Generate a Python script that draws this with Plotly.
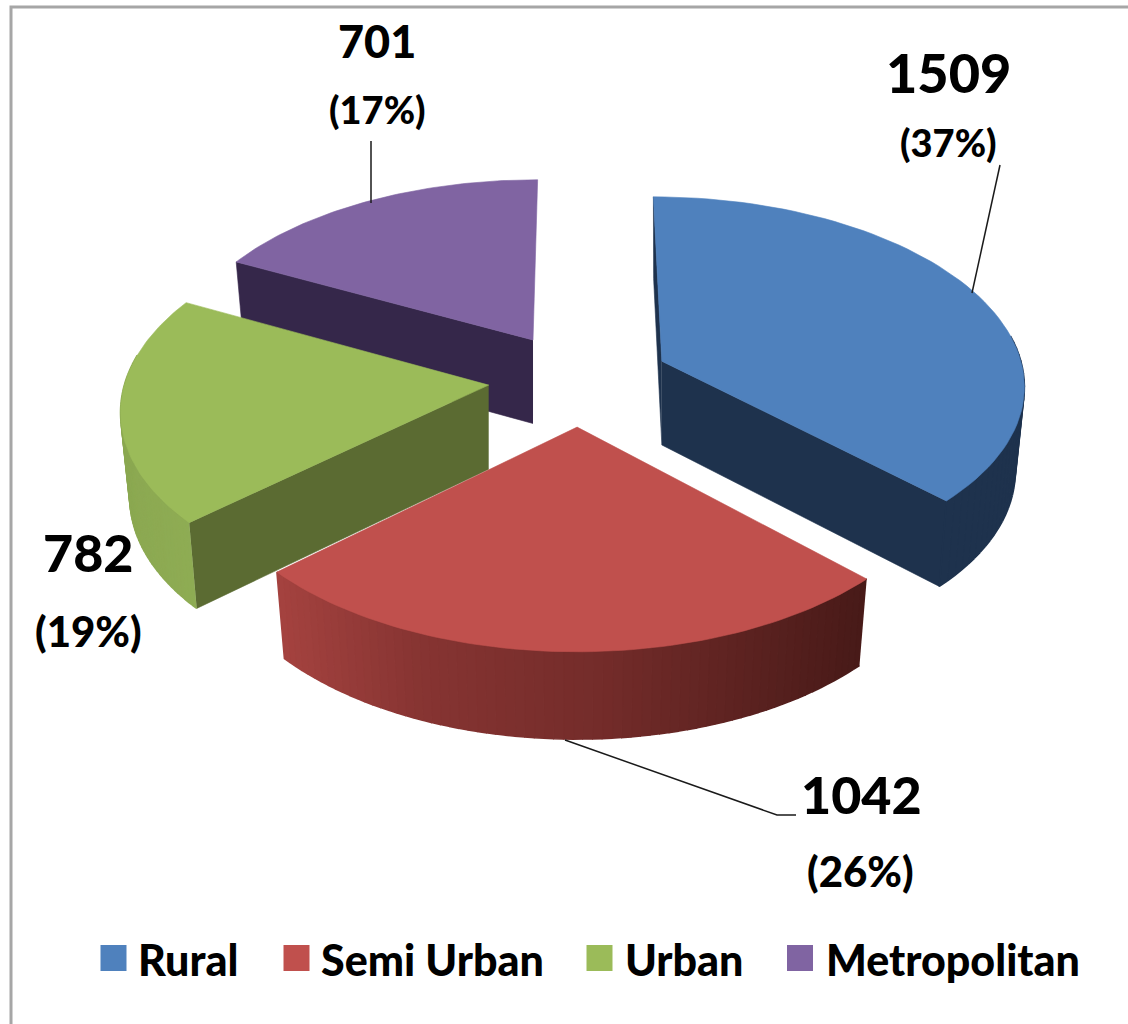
import numpy as np
import plotly.graph_objects as go

CATEGORIES = ["Rural", "Semi Urban", "Urban", "Metropolitan"]
VALUES = [1509, 1042, 782, 701]
PERCENT_LABELS = ["(37%)", "(26%)", "(19%)", "(17%)"]
TOP_COLORS = ["#4F81BD", "#C0504D", "#9BBB59", "#8064A2"]
WALL_COLORS = ["#1E324D", "#7A2E2C", "#5B6B32", "#35274A"]
# outer-wall shading: (screen x, colour) stops
OUTER_STOPS = [
    [(600, (30, 50, 77)), (1030, (30, 50, 77))],
    [(280, (164, 66, 63)), (420, (134, 52, 50)), (600, (116, 44, 42)), (865, (72, 26, 24))],
    [(120, (139, 168, 81)), (200, (143, 173, 84))],
    [(240, (53, 39, 74)), (540, (53, 39, 74))],
]
SHOW_START_WALL = [True, False, True, True]
SHOW_END_WALL = [True, False, False, False]
PAINT_ORDER = [3, 0, 2, 1]

# projection of the tilted pie
X0, Y0, RX, RY, PERSP, EXPLODE, DEPTH, LEAN = 579, 379, 363, 187, 0.1145, 0.25, 84, 0.975


def proj(wx, wy):
    w = 1 + PERSP * wy
    return X0 + RX * wx / w, Y0 - RY * wy / w, DEPTH / w ** 0.25


def poly(fig, xs, ys, color, lw=0.6):
    fig.add_trace(go.Scatter(
        x=list(xs), y=list(ys), mode="lines", fill="toself", fillcolor=color,
        line=dict(color=color, width=lw), hoverinfo="skip", showlegend=False,
    ))


def shade(stops, x):
    xs = [s[0] for s in stops]
    rgb = [np.interp(x, xs, [s[1][i] for s in stops]) for i in range(3)]
    return "rgb(%d,%d,%d)" % tuple(int(round(c)) for c in rgb)


fig = go.Figure()
fractions = np.array(VALUES) / sum(VALUES)
ends = np.cumsum(fractions) * 2 * np.pi
starts = ends - fractions * 2 * np.pi

for i in PAINT_ORDER:
    mid = (starts[i] + ends[i]) / 2
    ex, ey = EXPLODE * np.sin(mid), EXPLODE * np.cos(mid)
    th = np.linspace(starts[i], ends[i], 70)
    tx, ty, d = proj(ex + np.sin(th), ey + np.cos(th))
    ax, ay, ad = proj(ex, ey)
    bx = ax + LEAN * (tx - ax)
    by = ty + d
    # radial walls
    if SHOW_START_WALL[i]:
        poly(fig, [ax, tx[0], bx[0], ax], [ay, ty[0], by[0], ay + ad], WALL_COLORS[i])
    if SHOW_END_WALL[i]:
        poly(fig, [ax, tx[-1], bx[-1], ax], [ay, ty[-1], by[-1], ay + ad], WALL_COLORS[i])
    # outer curved wall, strip by strip for the shading (front half only: the back is hidden)
    for j in range(len(th) - 1):
        if np.cos(th[j]) < 0.15:
            xm = (tx[j] + tx[j + 1]) / 2
            poly(fig, [tx[j], tx[j + 1], bx[j + 1], bx[j]], [ty[j], ty[j + 1], by[j + 1], by[j]],
                 shade(OUTER_STOPS[i], xm), lw=1.6)
    # top face
    poly(fig, [ax, *tx, ax], [ay, *ty, ay], TOP_COLORS[i])

# legend: one native legend per entry so each can be placed
LEGEND_X = [106, 289, 593, 794]
SWATCH_X = [113.5, 296.5, 599.5, 800]
legend_layout = {}
for i, name in enumerate(CATEGORIES):
    key = "legend" if i == 0 else f"legend{i+1}"
    fig.add_trace(go.Scatter(
        x=[None], y=[None], mode="markers", name=name, legend=key,
        marker=dict(symbol="square", size=8, color=TOP_COLORS[i]),
    ))
    legend_layout[key] = dict(
        x=(LEGEND_X[i] - 8) / 1128, y=1 - 959 / 1024, xanchor="left", yanchor="middle",
        bgcolor="rgba(0,0,0,0)", borderwidth=0, itemclick=False, itemdoubleclick=False,
        font=dict(family="Lato", size=43, color="#000000", weight=900),
    )
    # full-size swatch over the legend's own marker (legend markers are capped at 16 px)
    fig.add_trace(go.Scatter(
        x=[SWATCH_X[i]], y=[958], mode="markers", hoverinfo="skip", showlegend=False,
        marker=dict(symbol="square", size=26, color=TOP_COLORS[i], line=dict(width=0)),
    ))

LABEL_FONT = "Lato"
VALUE_POS = [(948, 72, 54), (861, 794, 52), (88, 552, 52), (377, 41, 45)]
PCT_POS = [(948, 142, 38), (860, 871, 42), (88, 631, 42), (377, 109, 38)]
ann = []
for i in range(4):
    for txt, (x, y, s) in ((str(VALUES[i]), VALUE_POS[i]), (PERCENT_LABELS[i], PCT_POS[i])):
        ann.append(dict(x=x, y=y, xref="x", yref="y", text=txt, showarrow=False,
                        xanchor="center", yanchor="middle",
                        font=dict(family=LABEL_FONT, size=s, color="#000000", weight=900)))

leader = dict(color="#1a1a1a", width=1.5)
shapes = [
    dict(type="rect", x0=11, y0=7, x1=1160, y1=1060, xref="x", yref="y",
         line=dict(color="#A6A6A6", width=3), layer="below"),
    dict(type="line", x0=1000, y0=165, x1=972, y1=293, xref="x", yref="y", line=leader),
    dict(type="line", x0=371, y0=141, x1=371, y1=203, xref="x", yref="y", line=leader),
    dict(type="path", path="M 565 740 L 777 815 L 796 815", xref="x", yref="y", line=leader),
]

fig.update_layout(
    width=1128, height=1024, margin=dict(l=0, r=0, t=0, b=0),
    paper_bgcolor="white", plot_bgcolor="white",
    xaxis=dict(range=[0, 1128], visible=False, fixedrange=True),
    yaxis=dict(range=[1024, 0], visible=False, fixedrange=True),
    annotations=ann, shapes=shapes, **legend_layout,
)
fig.write_html("out.html", config=dict(displayModeBar=False),
               post_script="document.body.style.margin='0';")
